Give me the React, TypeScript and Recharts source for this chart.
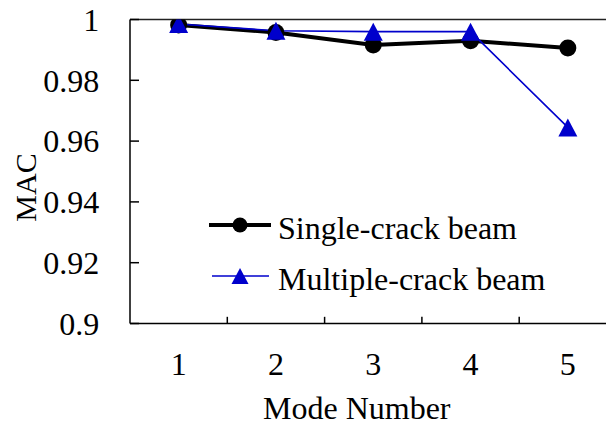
import React from "react";
import { LineChart, Line, XAxis, YAxis, ReferenceLine, Legend, Label } from "recharts";

const modes = [1, 2, 3, 4, 5];
const singleCrack = [0.9982, 0.9957, 0.9916, 0.993, 0.9906];
const multipleCrack = [0.9985, 0.9963, 0.996, 0.996, 0.9645];
const yTicks = [0.9, 0.92, 0.94, 0.96, 0.98, 1];
const xBoundaryTicks = [1.5, 2.5, 3.5, 4.5];
const seriesNames = ["Single-crack beam", "Multiple-crack beam"];

const data = modes.map((m, i) => ({ mode: m, single: singleCrack[i], multiple: multipleCrack[i] }));

const FONT = "Liberation Serif";
const BLUE = "#0000CC";
const textStyle = { fontFamily: FONT };

const CircleDot = (props: any) => {
  const { cx, cy, index } = props;
  if (cx == null || cy == null) return <g key={`c-${index}`} />;
  return <circle key={`c-${index}`} cx={cx} cy={cy} r={8.5} fill="#000" stroke="none" />;
};

const TriDot = (props: any) => {
  const { cx, cy, index } = props;
  if (cx == null || cy == null) return <g key={`t-${index}`} />;
  const pts = `${cx},${cy - 9} ${cx + 9.5},${cy + 9} ${cx - 9.5},${cy + 9}`;
  return <polygon key={`t-${index}`} points={pts} fill={BLUE} stroke="none" />;
};

const renderLegend = () => (
  <svg width={400} height={110} style={{ display: "block", overflow: "visible" }}>
    <line x1={9} x2={71} y1={25} y2={25} stroke="#000" strokeWidth={4} />
    <circle cx={40} cy={25} r={7.5} fill="#000" />
    <text x={78} y={39.3} style={textStyle} fontSize={32} fill="#000">
      {seriesNames[0]}
    </text>
    <line x1={12} x2={69} y1={76} y2={76} stroke={BLUE} strokeWidth={1.6} />
    <polygon points={`40,68 48.5,84 31.5,84`} fill={BLUE} />
    <text x={78} y={90} style={textStyle} fontSize={32} fill="#000">
      {seriesNames[1]}
    </text>
  </svg>
);

const MacLabel = (props: any) => {
  const vb = props.viewBox || {};
  const x = (vb.x ?? 0) + 36;
  const y = (vb.y ?? 0) + (vb.height ?? 0) / 2 + 16;
  return (
    <text x={x} y={y} transform={`rotate(-90, ${x}, ${y})`} textAnchor="middle" style={textStyle} fontSize={30} fill="#000">
      MAC
    </text>
  );
};

const ModeLabel = (props: any) => {
  const vb = props.viewBox || {};
  const x = (vb.x ?? 0) + (vb.width ?? 0) / 2 - 16.5;
  const y = 419.3;
  return (
    <text x={x} y={y} textAnchor="middle" style={textStyle} fontSize={32} fill="#000">
      Mode Number
    </text>
  );
};

export default function App() {
  return (
    <div style={{ position: "fixed", left: 0, top: 0, width: 606, height: 426, overflow: "hidden", background: "#fff", fontFamily: FONT }}>
      <LineChart
        width={640}
        height={426}
        data={data}
        margin={{ top: 19.5, right: 23.5, left: 0, bottom: 0 }}
        style={textStyle}
      >
        <XAxis
          dataKey="mode"
          type="number"
          domain={[0.5, 5.5]}
          ticks={modes}
          allowDataOverflow
          height={102.5}
          tickLine={false}
          tickSize={0}
          tickMargin={29}
          axisLine={{ stroke: "#000", strokeWidth: 1.5 }}
          tick={{ fontFamily: FONT, fontSize: 32, fill: "#000", style: textStyle }}
        >
          <Label content={<ModeLabel />} />
        </XAxis>
        <YAxis
          type="number"
          domain={[0.9, 1]}
          ticks={yTicks}
          allowDataOverflow
          width={130}
          tickSize={-9}
          tickMargin={39.7}
          tickFormatter={(v: number) => String(v)}
          axisLine={{ stroke: "#000", strokeWidth: 1.5 }}
          tickLine={{ stroke: "#000", strokeWidth: 1.5 }}
          tick={{ fontFamily: FONT, fontSize: 32, fill: "#000", style: textStyle }}
        >
          <Label content={<MacLabel />} />
        </YAxis>
        <ReferenceLine y={1} stroke="#222" strokeWidth={1.5} />
        {xBoundaryTicks.map((t) => (
          <ReferenceLine
            key={t}
            segment={[
              { x: t, y: 0.9 },
              { x: t, y: 0.9022 },
            ]}
            stroke="#000"
            strokeWidth={1.5}
          />
        ))}
        <Line
          dataKey="single"
          name={seriesNames[0]}
          stroke="#000"
          strokeWidth={4}
          dot={CircleDot}
          activeDot={false}
          isAnimationActive={false}
        />
        <Line
          dataKey="multiple"
          name={seriesNames[1]}
          stroke={BLUE}
          strokeWidth={1.6}
          dot={TriDot}
          activeDot={false}
          isAnimationActive={false}
        />
        <Legend
          layout="vertical"
          align="center"
          verticalAlign="middle"
          content={renderLegend}
          wrapperStyle={{ position: "absolute", left: 200, top: 200, width: 400, height: 110 }}
        />
      </LineChart>
    </div>
  );
}
